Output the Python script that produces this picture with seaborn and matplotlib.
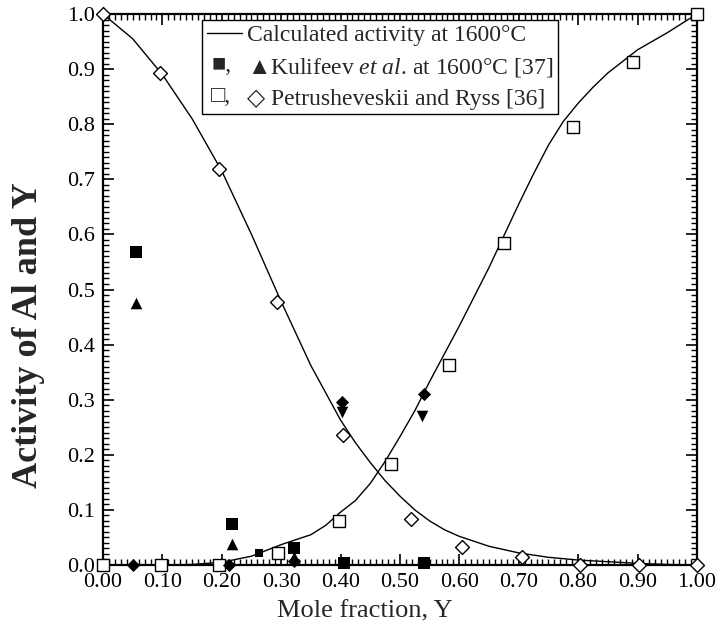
import matplotlib
matplotlib.use('Agg')
import numpy as np
import pandas as pd
import matplotlib.pyplot as plt
import seaborn as sns
from matplotlib.lines import Line2D
from matplotlib.text import Text
from matplotlib.legend_handler import HandlerBase
from matplotlib.ticker import MultipleLocator, FormatStrFormatter

# calculated activity curves at 1600 C
calc_al_x = [0.00, 0.05, 0.10, 0.15, 0.20, 0.25, 0.30, 0.35, 0.40, 0.425, 0.45, 0.475, 0.50,
             0.525, 0.55, 0.575, 0.60, 0.65, 0.70, 0.75, 0.80, 0.85, 0.90, 0.95, 1.00]
calc_al = [1.000, 0.955, 0.890, 0.810, 0.715, 0.600, 0.478, 0.362, 0.263, 0.222, 0.186, 0.153, 0.125,
           0.100, 0.080, 0.064, 0.052, 0.034, 0.022, 0.014, 0.009, 0.006, 0.003, 0.001, 0.000]
calc_y_x = [0.00, 0.10, 0.15, 0.20, 0.25, 0.30, 0.35, 0.375, 0.40, 0.425, 0.45, 0.475, 0.50,
            0.525, 0.55, 0.60, 0.65, 0.70, 0.725, 0.75, 0.775, 0.80, 0.825, 0.85, 0.90, 0.95, 1.00]
calc_y = [0.000, 0.000, 0.001, 0.005, 0.016, 0.037, 0.055, 0.072, 0.096, 0.117, 0.148, 0.188, 0.233,
          0.280, 0.333, 0.434, 0.540, 0.655, 0.710, 0.762, 0.805, 0.838, 0.867, 0.893, 0.935, 0.966, 1.000]

# Petrusheveskii and Ryss [36]
petr_al_x = [0.00, 0.096, 0.195, 0.293, 0.404, 0.518, 0.604, 0.705, 0.803, 0.902, 1.00]
petr_al = [1.000, 0.893, 0.719, 0.478, 0.236, 0.083, 0.033, 0.014, 0.000, 0.000, 0.000]
petr_y_x = [0.00, 0.098, 0.195, 0.295, 0.397, 0.485, 0.582, 0.675, 0.791, 0.892, 1.00]
petr_y = [0.000, 0.000, 0.000, 0.022, 0.080, 0.183, 0.363, 0.585, 0.795, 0.913, 1.000]

# Kulifeev et al. at 1600 C [37]
kul_sq_x = [0.056, 0.217, 0.321, 0.406, 0.540]
kul_sq = [0.568, 0.074, 0.031, 0.004, 0.003]
kul_small_sq_x = [0.263]
kul_small_sq = [0.022]
kul_tri_x = [0.056, 0.217, 0.321]
kul_tri = [0.476, 0.038, 0.015]
kul_dtri_x = [0.402, 0.537]
kul_dtri = [0.277, 0.271]
kul_dia_x = [0.050, 0.212, 0.321, 0.402, 0.540]
kul_dia = [0.000, 0.000, 0.007, 0.295, 0.310]

legend_labels = ['Calculated activity at 1600°C',
                 '▲Kulifeev $\\it{et\\ al.}\\,$at 1600°C [37]',
                 '◇ Petrusheveskii and Ryss [36]']
legend_glyphs = ['■,', '□,']

sns.set_theme(style='ticks')
plt.rcParams['font.family'] = ['Liberation Serif', 'DejaVu Serif']
plt.rcParams['mathtext.fontset'] = 'custom'
plt.rcParams['mathtext.rm'] = 'Liberation Serif'
plt.rcParams['mathtext.it'] = 'Liberation Serif:italic'


class GlyphHandler(HandlerBase):
    # draws a short text (marker glyphs) in the legend handle slot
    def create_artists(self, legend, orig_handle, xdescent, ydescent, width, height, fontsize, trans):
        t = Text(-xdescent + 3, -ydescent + height / 2, orig_handle.get_text(), fontsize=fontsize,
                 va='center', ha='left', family=['Liberation Serif', 'DejaVu Serif'], transform=trans)
        return [t]


fig = plt.figure(figsize=(7.26, 6.32), dpi=100)
ax = fig.add_axes([0.1419, 0.106, 0.818, 0.8718])

sns.lineplot(x=calc_al_x, y=calc_al, color='black', lw=1, ax=ax, sort=False, estimator=None)
sns.lineplot(x=calc_y_x, y=calc_y, color='black', lw=1, ax=ax, sort=False, estimator=None)

kw = dict(ax=ax, clip_on=False, zorder=5, legend=False)
sns.scatterplot(x=petr_al_x, y=petr_al, marker='D', s=50, facecolor='white', edgecolor='black', linewidth=1, **kw)
sns.scatterplot(x=petr_y_x, y=petr_y, marker='s', s=75, facecolor='white', edgecolor='black', linewidth=1, **kw)
sns.scatterplot(x=kul_sq_x, y=kul_sq, marker='s', s=85, color='black', linewidth=0, **kw)
sns.scatterplot(x=kul_small_sq_x, y=kul_small_sq, marker='s', s=40, color='black', linewidth=0, **kw)
sns.scatterplot(x=kul_tri_x, y=kul_tri, marker='^', s=70, color='black', linewidth=0, **kw)
sns.scatterplot(x=kul_dtri_x, y=kul_dtri, marker='v', s=70, color='black', linewidth=0, **kw)
sns.scatterplot(x=kul_dia_x, y=kul_dia, marker='D', s=45, color='black', linewidth=0, **kw)

ax.set_xlim(0, 1)
ax.set_ylim(0, 1)
ax.xaxis.set_major_locator(MultipleLocator(0.1))
ax.xaxis.set_minor_locator(MultipleLocator(0.01))
ax.yaxis.set_major_locator(MultipleLocator(0.1))
ax.yaxis.set_minor_locator(MultipleLocator(0.01))
ax.xaxis.set_major_formatter(FormatStrFormatter('%.2f'))
ax.yaxis.set_major_formatter(FormatStrFormatter('%.1f'))
ax.tick_params(which='both', direction='in', top=True, right=True, colors='black', labelsize=16)
ax.tick_params(which='major', length=8, width=1.2, pad=6)
ax.tick_params(which='minor', length=4.5, width=1)
for sp in ax.spines.values():
    sp.set_linewidth(1.6)
    sp.set_color('black')

ax.set_xlabel('Mole fraction, Y', fontsize=19)
ax.set_ylabel('Activity of Al and Y', fontsize=26, fontweight='bold')
ax.xaxis.set_label_coords(0.441, -0.064)
ax.yaxis.set_label_coords(-0.097, 0.417)

handles = [Line2D([], [], color='black', lw=1), Text(text=legend_glyphs[0]), Text(text=legend_glyphs[1])]
leg = ax.legend(handles, legend_labels, handler_map={Text: GlyphHandler()},
                loc='upper left', bbox_to_anchor=(0.167, 0.989), fontsize=17,
                frameon=True, fancybox=False, framealpha=1, edgecolor='black',
                handlelength=1.5, handletextpad=0.2, labelspacing=0.4,
                borderpad=0.2, borderaxespad=0)
leg.get_frame().set_linewidth(1)

plt.savefig('out.png', dpi=100)
